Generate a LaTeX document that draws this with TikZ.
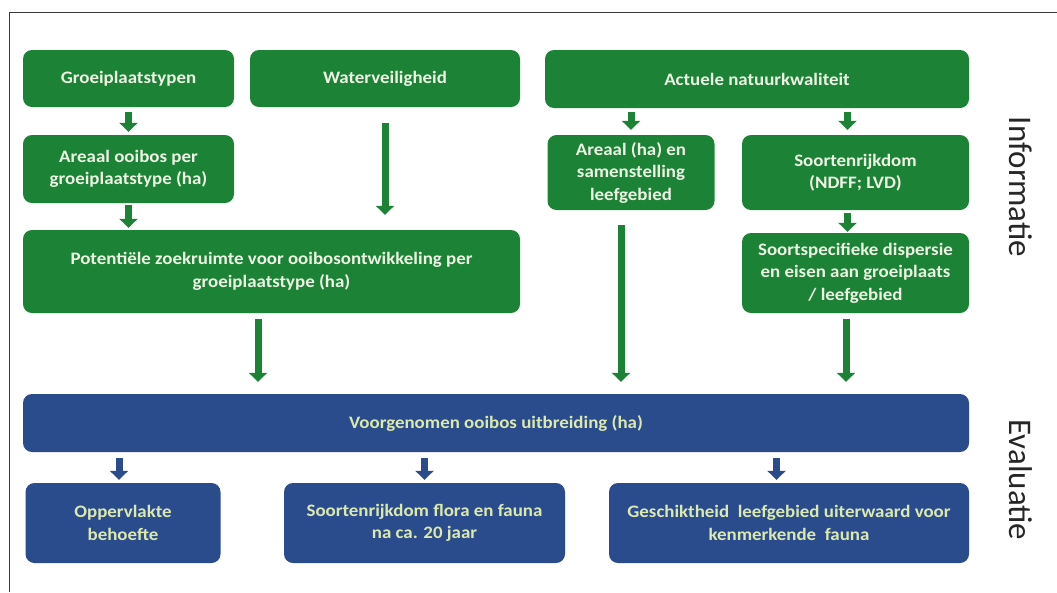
\documentclass[tikz,border=0pt]{standalone}
\usepackage{fontspec}
\setmainfont{Carlito}
\newfontfamily\boxfont{Carlito}[FakeStretch=1.08]
\usetikzlibrary{arrows.meta,calc}
\definecolor{gfill}{HTML}{1C8236}
\definecolor{bfill}{HTML}{2A4B8C}
\definecolor{gtext}{HTML}{EEF4E4}
\definecolor{btext}{HTML}{DCE9AE}
\definecolor{framec}{HTML}{3A3A3A}
\begin{document}
\begin{tikzpicture}[x=1pt,y=-1pt,
  boxbase/.style={rounded corners=9pt, inner sep=0pt, align=center,
    font=\boxfont\bfseries\fontsize{17.5}{22.5}\selectfont},
  gbox/.style={boxbase, fill=gfill, text=gtext},
  bbox/.style={boxbase, fill=bfill, text=btext},
  garr/.style={draw=gfill, line width=7pt, -{Triangle[width=18pt,length=9pt]}},
  barr/.style={draw=bfill, line width=7pt, -{Triangle[width=18pt,length=9pt]}},
  sidelabel/.style={rotate=-90, text=black!85, font=\fontsize{33}{36}\selectfont},
  framestyle/.style={draw=framec, line width=1pt}]
\useasboundingbox (0,0) rectangle (1057,592);
\fill[white] (0,0) rectangle (1057,592);
\draw[framestyle] (9,592) -- (9,12) -- (1057,12);

% Informatie row
\node[gbox, minimum width=211pt, minimum height=57pt] (groei) at (128.5,78.5) {Groeiplaatstypen};
\node[gbox, minimum width=270pt, minimum height=57pt] (water) at (385,78.5) {Waterveiligheid};
\node[gbox, minimum width=424pt, minimum height=58pt] (actu) at (757,79) {Actuele natuurkwaliteit};
\node[gbox, minimum width=211pt, minimum height=68pt] (areaal) at (128.5,169) {Areaal ooibos per\\groeiplaatstype (ha)};
\node[gbox, minimum width=167pt, minimum height=75pt] (areaalha) at (631,172.5) {Areaal (ha) en\\samenstelling\\leefgebied};
\node[gbox, minimum width=227pt, minimum height=75pt] (soort) at (855.5,172.5) {Soortenrijkdom\\(NDFF; LVD)};
\node[gbox, minimum width=497pt, minimum height=83pt] (pot) at (271.5,271.5) {Potentiële zoekruimte voor ooibosontwikkeling per\\groeiplaatstype (ha)};
\node[gbox, minimum width=227pt, minimum height=80pt] (disp) at (855.5,273) {Soortspecifieke dispersie\\en eisen aan groeiplaats\\/ leefgebied};

% Evaluatie row
\node[bbox, minimum width=946pt, minimum height=58pt] (voor) at (496,423) {Voorgenomen ooibos uitbreiding (ha)};
\node[bbox, minimum width=195pt, minimum height=80pt] (opp) at (123,523) {Oppervlakte\\behoefte};
\node[bbox, minimum width=281pt, minimum height=80pt] (flora) at (424.5,523) {Soortenrijkdom flora en fauna\\na ca. 20 jaar};
\node[bbox, minimum width=360pt, minimum height=80pt] (gesch) at (789,523) {Geschiktheid\ \ leefgebied uiterwaard voor\\kenmerkende\ \ fauna};

% side labels
\node[sidelabel] (info) at (1021,187) {Informatie};
\node[sidelabel] (eval) at (1021,480) {Evaluatie};

% green arrows
\draw[garr, shorten <=5pt, shorten >=3pt] (groei.south) -- (areaal.north);
\draw[garr, shorten <=2pt, shorten >=2pt] (areaal.south) -- (areaal.south |- pot.north);
\draw[garr, shorten <=16pt, shorten >=15pt] (water.south) -- (water.south |- pot.north);
\draw[garr, shorten <=4pt, shorten >=5pt] (areaalha.north |- actu.south) -- (areaalha.north);
\draw[garr, shorten <=4pt, shorten >=5pt] ([xshift=-8pt]soort.north |- actu.south) -- ([xshift=-8pt]soort.north);
\draw[garr, shorten <=3pt, shorten >=1pt] ([xshift=-8pt]soort.south) -- ([xshift=-8pt]disp.north);
\draw[garr, shorten <=6pt, shorten >=12pt] ([xshift=-13.5pt]pot.south) -- ([xshift=-13.5pt]pot.south |- voor.north);
\draw[garr, shorten <=15pt, shorten >=12pt] ([xshift=-10pt]areaalha.south) -- ([xshift=-10pt]areaalha.south |- voor.north);
\draw[garr, shorten <=6pt, shorten >=12pt] ([xshift=-9.5pt]disp.south) -- ([xshift=-9.5pt]disp.south |- voor.north);

% blue arrows
\draw[barr, shorten <=6pt, shorten >=3pt] ([xshift=-4pt]opp.north |- voor.south) -- ([xshift=-4pt]opp.north);
\draw[barr, shorten <=6pt, shorten >=3pt] (flora.north |- voor.south) -- (flora.north);
\draw[barr, shorten <=6pt, shorten >=3pt] ([xshift=-12.5pt]gesch.north |- voor.south) -- ([xshift=-12.5pt]gesch.north);
\end{tikzpicture}
\end{document}
